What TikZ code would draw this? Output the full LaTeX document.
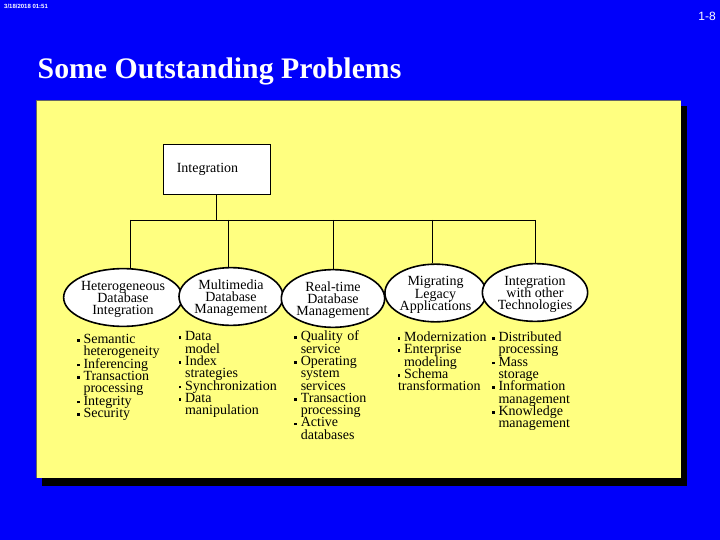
\documentclass[tikz,border=0pt]{standalone}
\usepackage{fontspec}
\setmainfont{Liberation Serif}
\setsansfont{Liberation Sans}
\usetikzlibrary{shapes.geometric}
\definecolor{slideblue}{RGB}{0,0,250}
\definecolor{panelyellow}{RGB}{255,255,128}
\newcommand\bul{\rule[0.27ex]{2.6pt}{2.6pt}}
\newcommand\bodyfont{\fontsize{14}{12.3}\selectfont\lineskiplimit=-20pt\lineskip=0pt\relax}
\newcommand\bitem{\par\hangindent=6.6pt\hangafter=1\noindent\makebox[6.6pt][l]{\bul}}
\newcommand\cont{\hfil\break}
\newcommand\topstrut{\rule{0pt}{13.2pt}}
\tikzset{
  oval/.style={draw, line width=1.6pt, fill=white, shape=ellipse, inner sep=0pt, align=center,
    font=\bodyfont},
  wire/.style={draw, line width=0.9pt},
  blist/.style={anchor=base west, inner sep=0pt, font=\bodyfont, align=left, text width=112pt},
}
\begin{document}
\begin{tikzpicture}[x=1pt,y=-1pt]
\useasboundingbox (0,0) rectangle (720,540);
\fill[slideblue] (0,0) rectangle (720,540);
% header texts
\node[anchor=west, text=white, font=\sffamily\bfseries\fontsize{6}{7}\selectfont, inner sep=0pt] (date) at (4,6.5) {3/18/2018 01:51};
\node[anchor=east, text=white, font=\sffamily\fontsize{12}{13}\selectfont, inner sep=0pt] (pg) at (716,16) {1-8};
% title
\node[anchor=base west, text=white, font=\bfseries\fontsize{29.8}{32}\selectfont, inner sep=0pt] (title) at (37.5,78.5) {Some Outstanding Problems};
% panel with shadow
\fill[black] (42,106) rectangle (687,485.5);
\fill[panelyellow] (36,100) rectangle (681,478);
\draw[black!60, line width=0.6pt] (36,478) -- (36,100) -- (681,100);
% root box
\node[draw, line width=0.9pt, fill=white, minimum width=107pt, minimum height=50pt, inner sep=0pt,
      font=\bodyfont] (root) at (216.5,169) {\hspace*{-18pt}Integration\vphantom{I}};
% ellipses
\node[oval, minimum width=104pt, minimum height=51pt] (e1) at (123,297.5) {\topstrut Heterogeneous\\Database\\Integration};
\node[oval, minimum width=104pt, minimum height=53pt] (e2) at (231,296.5) {\topstrut Multimedia\\Database\\Management};
\node[oval, minimum width=100pt, minimum height=49pt] (e3) at (333,298.5) {\topstrut Real-time\\Database\\Management};
\node[oval, minimum width=97pt, minimum height=51pt] (e4) at (435.5,293) {\topstrut Migrating\\Legacy\\Applications};
\node[oval, minimum width=100pt, minimum height=51pt] (e5) at (535,292.5) {\topstrut Integration\\with other\\Technologies};
% bus
\coordinate (bl) at (130,220);
\coordinate (br) at (535,220);
\coordinate (d2) at (228,220);
\coordinate (d3) at (333,220);
\coordinate (d4) at (432,220);
\draw[wire] (root.south) -- (root.south |- bl);
\draw[wire] (bl) -- (br);
\draw[wire] (bl) -- (bl |- e1.north);
\draw[wire] (d2) -- (d2 |- e2.north);
\draw[wire] (d3) -- (e3.north);
\draw[wire] (d4) -- (d4 |- e4.north);
\draw[wire] (br) -- (e5.north);
% lists
\node[blist] (l1) at (76.7,331.2) {%
\bitem Semantic\cont heterogeneity
\bitem Inferencing
\bitem Transaction\cont processing
\bitem Integrity
\bitem Security\par};
\node[blist] (l2) at (178.3,328.5) {%
\bitem Data\cont model
\bitem Index\cont strategies
\bitem Synchronization
\bitem Data\cont manipulation\par};
\node[blist] (l3) at (294,328.5) {%
\bitem Quality of\cont service
\bitem Operating\cont system\cont services
\bitem Transaction\cont processing
\bitem Active\cont databases\par};
\node[blist] (l4) at (397.3,329.2) {%
\bitem Modernization
\bitem Enterprise\cont modeling
\bitem Schema\cont\hspace*{-6pt}transformation\par};
\node[blist] (l5) at (491.7,329.2) {%
\bitem Distributed\cont processing
\bitem Mass\cont storage
\bitem Information\cont management
\bitem Knowledge\cont management\par};
\end{tikzpicture}
\end{document}
